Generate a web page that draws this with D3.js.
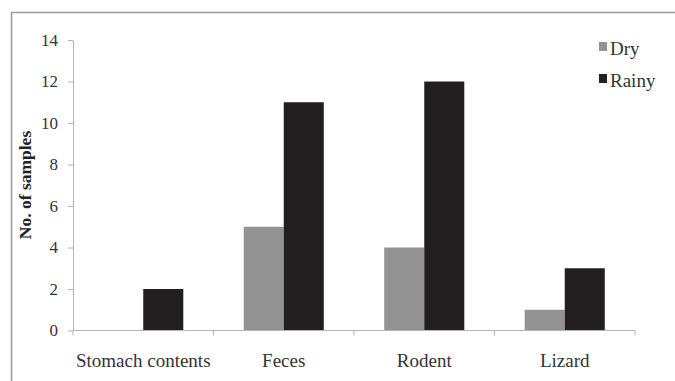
<!DOCTYPE html>
<head>
    <meta charset="UTF-8">
    <script src="https://d3js.org/d3.v7.min.js"></script>
    <style>
        body { margin: 0; background: white; }
    </style>
</head>
<body>
    <div id="viz"></div>
    <script>
        // data
        const categories = ["Stomach contents", "Feces", "Rodent", "Lizard"];
        const seriesNames = ["Dry", "Rainy"];
        const dryValues = [0, 5, 4, 1];
        const rainyValues = [2, 11, 12, 3];
        const yTicks = [0, 2, 4, 6, 8, 10, 12, 14];
        const colors = { Dry: "#939393", Rainy: "#231f20" };

        const serif = "'Liberation Serif', 'Times New Roman', Times, 'DejaVu Serif', serif";
        const width = 675, height = 381;
        const margin = { left: 73, right: 40, top: 40, bottom: 51 };

        const svg = d3.select("#viz").append("svg")
            .attr("width", width)
            .attr("height", height);

        // outer frame (top and left edges visible, rest cropped)
        svg.append("path")
            .attr("d", `M11.5,${height} V12.5 H${width}`)
            .attr("fill", "none")
            .attr("stroke", "#9a9a9a")
            .attr("stroke-width", 1.5);

        const x0 = d3.scaleBand()
            .domain(categories)
            .range([margin.left, 635]);

        const x1 = d3.scaleBand()
            .domain(seriesNames)
            .range([x0.bandwidth() * 0.215, x0.bandwidth() * 0.785]);

        const y = d3.scaleLinear()
            .domain([0, 14])
            .range([330.5, 40]);

        const rows = categories.map((c, i) => ({
            cat: c,
            vals: [{ key: "Dry", v: dryValues[i] }, { key: "Rainy", v: rainyValues[i] }]
        }));

        // bars
        svg.append("g").selectAll("g")
            .data(rows)
            .join("g")
            .attr("transform", d => `translate(${x0(d.cat)},0)`)
            .selectAll("rect")
            .data(d => d.vals.filter(e => e.v > 0))
            .join("rect")
            .attr("x", d => x1(d.key))
            .attr("width", x1.bandwidth())
            .attr("y", d => y(d.v))
            .attr("height", d => y(0) - y(d.v))
            .attr("fill", d => colors[d.key]);

        // y axis
        const yAxis = svg.append("g")
            .attr("transform", `translate(${margin.left},0)`)
            .call(d3.axisLeft(y).tickValues(yTicks).tickSize(5).tickSizeOuter(0).tickPadding(10));
        yAxis.attr("font-family", null);
        yAxis.selectAll("path, line").attr("stroke", "#b4b4b4");
        yAxis.selectAll("text")
            .style("font-family", serif)
            .style("font-size", "17px")
            .attr("fill", "#333");

        // x axis with boundary ticks between categories
        const xAxisG = svg.append("g");
        xAxisG.append("line")
            .attr("x1", margin.left).attr("x2", 635)
            .attr("y1", y(0)).attr("y2", y(0))
            .attr("stroke", "#b4b4b4");
        const bounds = categories.map(c => x0(c)).concat([x0.range()[1]]);
        xAxisG.selectAll(".bt")
            .data(bounds)
            .join("line")
            .attr("x1", d => d).attr("x2", d => d)
            .attr("y1", y(0)).attr("y2", y(0) + 5)
            .attr("stroke", "#b4b4b4");
        xAxisG.selectAll(".cl")
            .data(categories)
            .join("text")
            .attr("x", d => x0(d) + x0.bandwidth() / 2)
            .attr("y", 367)
            .attr("text-anchor", "middle")
            .attr("fill", "#333")
            .style("font-family", serif)
            .style("font-size", "19px")
            .text(d => d);

        // y title
        svg.append("text")
            .attr("transform", "translate(31,185) rotate(-90)")
            .attr("text-anchor", "middle")
            .attr("fill", "#222")
            .style("font-family", serif)
            .style("font-size", "17.5px")
            .style("font-weight", "bold")
            .text("No. of samples");

        // legend
        const legend = svg.append("g").selectAll("g")
            .data(seriesNames)
            .join("g")
            .attr("transform", (d, i) => `translate(599,${42 + i * 32})`);
        legend.append("rect")
            .attr("width", 8).attr("height", 9)
            .attr("fill", d => colors[d]);
        legend.append("text")
            .attr("x", 11).attr("y", 13)
            .attr("fill", "#333")
            .style("font-family", serif)
            .style("font-size", "19px")
            .text(d => d);
    </script>
</body>
</html>
